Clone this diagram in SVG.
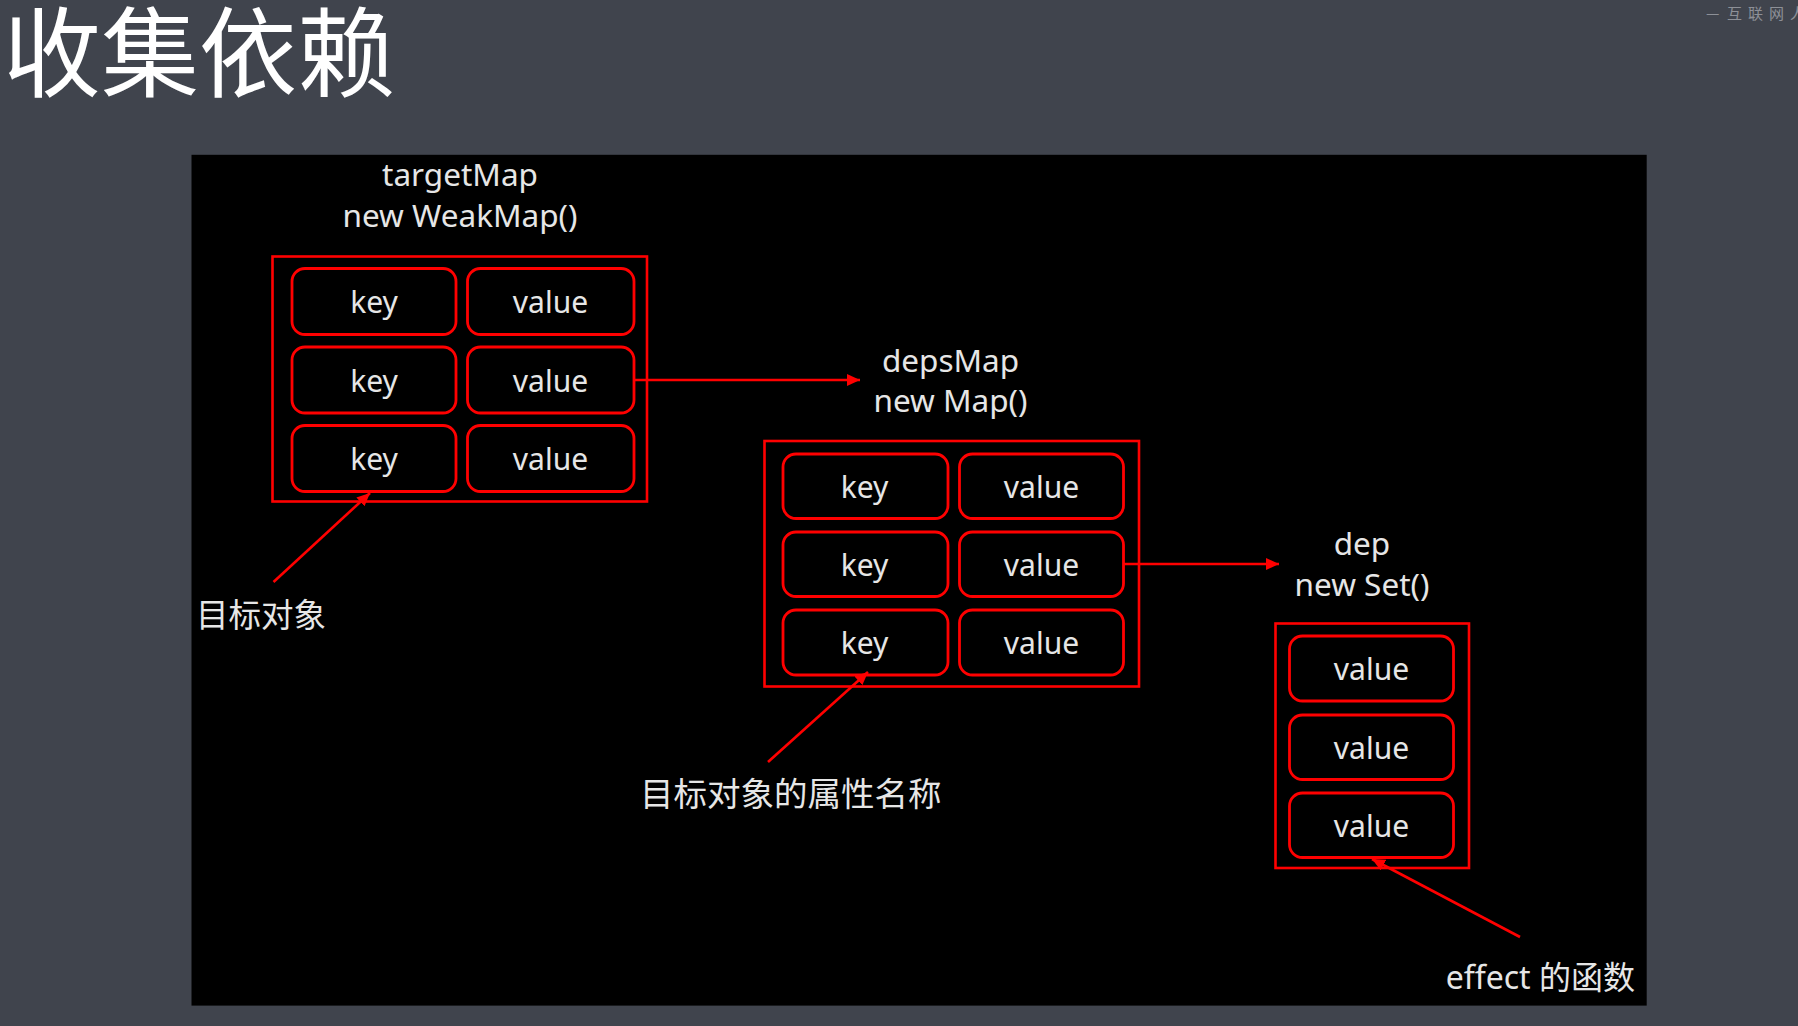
<svg xmlns="http://www.w3.org/2000/svg" width="1798" height="1026" viewBox="0 0 1798 1026">
<defs>
<style>
.box{fill:none;stroke:#f00;stroke-width:2.6}
.cell{fill:#000;stroke:#f00;stroke-width:2.8}
.t{font-family:"Noto Sans","Noto Sans CJK SC",sans-serif;fill:#e6e6e6;text-anchor:middle}
.c{font-size:30px}
.h{font-size:31.5px}
.lbl{font-family:"Noto Sans","Noto Sans CJK SC",sans-serif;fill:#e6e6e6}
.wire{stroke:#f00;stroke-width:2.6;fill:none}
</style>
<marker id="ah" markerUnits="userSpaceOnUse" markerWidth="14" markerHeight="12" refX="13" refY="6" orient="auto">
<path d="M0,0 L13,6 L0,12 z" fill="#f00"/>
</marker>
</defs>
<rect width="1798" height="1026" fill="#40444d"/>
<text x="3" y="89" font-family="Noto Sans CJK SC, sans-serif" font-size="98" fill="#fff">收集依赖</text>
<text font-family="Noto Sans CJK SC, sans-serif" font-size="15" fill="#8d9097"><tspan x="1706" y="19">—</tspan><tspan x="1727" y="19">互</tspan><tspan x="1748" y="19">联</tspan><tspan x="1769" y="19">网</tspan><tspan x="1790" y="19">人</tspan></text>
<rect x="191.5" y="154.8" width="1455.2" height="850.8" fill="#000"/>

<g id="targetMap">
<text class="t h" x="460" y="186">targetMap</text>
<text class="t h" x="460" y="227">new WeakMap()</text>
<rect class="box" x="272.5" y="256.5" width="374.5" height="245"/>
<rect class="cell" x="292" y="268.5" width="164" height="66" rx="13"/>
<rect class="cell" x="467.5" y="268.5" width="166.5" height="66" rx="13"/>
<rect class="cell" x="292" y="347" width="164" height="66" rx="13"/>
<rect class="cell" x="467.5" y="347" width="166.5" height="66" rx="13"/>
<rect class="cell" x="292" y="425.5" width="164" height="66" rx="13"/>
<rect class="cell" x="467.5" y="425.5" width="166.5" height="66" rx="13"/>
<text class="t c" x="374" y="313">key</text>
<text class="t c" x="550.5" y="313">value</text>
<text class="t c" x="374" y="391.5">key</text>
<text class="t c" x="550.5" y="391.5">value</text>
<text class="t c" x="374" y="470">key</text>
<text class="t c" x="550.5" y="470">value</text>
</g>

<g id="depsMap">
<text class="t h" x="950.5" y="372">depsMap</text>
<text class="t h" x="950.5" y="412">new Map()</text>
<rect class="box" x="764.5" y="441" width="374.5" height="245.5"/>
<rect class="cell" x="783" y="454" width="165" height="64.5" rx="13"/>
<rect class="cell" x="959.5" y="454" width="164" height="64.5" rx="13"/>
<rect class="cell" x="783" y="532" width="165" height="64.5" rx="13"/>
<rect class="cell" x="959.5" y="532" width="164" height="64.5" rx="13"/>
<rect class="cell" x="783" y="610" width="165" height="65" rx="13"/>
<rect class="cell" x="959.5" y="610" width="164" height="65" rx="13"/>
<text class="t c" x="864.5" y="498">key</text>
<text class="t c" x="1041.5" y="498">value</text>
<text class="t c" x="864.5" y="576">key</text>
<text class="t c" x="1041.5" y="576">value</text>
<text class="t c" x="864.5" y="654">key</text>
<text class="t c" x="1041.5" y="654">value</text>
</g>

<g id="dep">
<text class="t h" x="1362" y="555">dep</text>
<text class="t h" x="1362" y="596">new Set()</text>
<rect class="box" x="1275.5" y="623.5" width="193.5" height="244.5"/>
<rect class="cell" x="1289.5" y="636" width="164" height="65" rx="13"/>
<rect class="cell" x="1289.5" y="715" width="164" height="64.5" rx="13"/>
<rect class="cell" x="1289.5" y="793" width="164" height="64.5" rx="13"/>
<text class="t c" x="1371.5" y="680">value</text>
<text class="t c" x="1371.5" y="759">value</text>
<text class="t c" x="1371.5" y="837">value</text>
</g>

<g id="label-target">
<text class="lbl" x="196" y="627" font-size="32.5">目标对象</text>
</g>
<g id="label-prop">
<text class="lbl" x="640" y="806" font-size="33.5">目标对象的属性名称</text>
</g>
<g id="label-effect">
<text class="lbl" x="1635" y="989" font-size="32" text-anchor="end">effect 的函数</text>
</g>

<g id="connectors">
<line class="wire" x1="634" y1="380" x2="860" y2="380" marker-end="url(#ah)"/>
<line class="wire" x1="1123.5" y1="564" x2="1279" y2="564" marker-end="url(#ah)"/>
<line class="wire" x1="273.5" y1="582" x2="370" y2="493" marker-end="url(#ah)"/>
<line class="wire" x1="768" y1="762" x2="868" y2="672" marker-end="url(#ah)"/>
<line class="wire" x1="1520" y1="937" x2="1372" y2="859" marker-end="url(#ah)"/>
</g>
</svg>
